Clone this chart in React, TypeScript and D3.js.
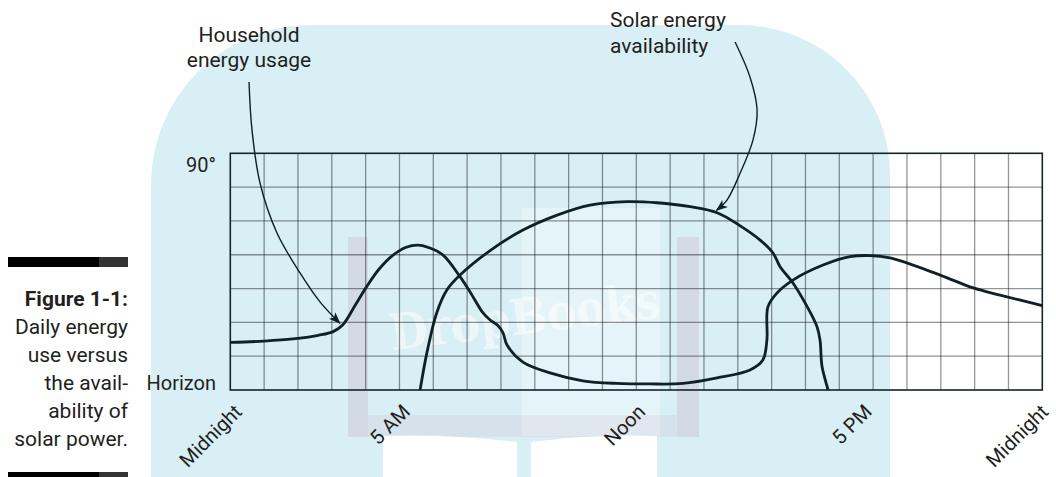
import React from "react";
import * as d3 from "d3";

// ---- data (hours since midnight, sun/usage level in degrees 0..90) ----
const household: [number, number][] = [
  [0, 18.1], [1, 18.6], [1.85, 19.4], [2.6, 20.8], [3.04, 22.2], [3.32, 24.7],
  [3.7, 32.4], [4.03, 39.3], [4.4, 46], [4.81, 51.3], [5.2, 54.3], [5.55, 55.1],
  [5.9, 54], [6.29, 51.3], [6.79, 43.1], [7.1, 37], [7.47, 29.3], [7.68, 26.6],
  [7.91, 24.5], [8.06, 21.7], [8.18, 17.1], [8.65, 10.6], [9.45, 6.5], [10.42, 3.5],
  [11.43, 2.5], [12.4, 2.3], [13.38, 2.5], [14.39, 4.6], [15.36, 7.6], [15.74, 11.4],
  [15.86, 19.0], [15.89, 31.6], [16.16, 36.9], [16.63, 41.8], [17.52, 47.5],
  [18.32, 50.7], [18.91, 51.1], [19.5, 50.2], [20.98, 43.7], [21.96, 38.8],
  [22.75, 36.1], [24, 32.1],
];

const solar: [number, number][] = [
  [5.61, 0], [5.81, 14.1], [6.1, 29.3], [6.4, 38.0], [6.79, 43.7], [7.7, 53.2],
  [8.65, 60.8], [9.66, 66.5], [10.63, 70.3], [11.73, 71.6], [12.61, 71.2],
  [13.59, 69.7], [14.39, 67.4], [15.06, 62.5], [15.66, 57.0], [16.04, 52.1],
  [16.25, 46.9], [16.63, 40.7], [17.05, 31.7], [17.34, 24.1], [17.43, 19.0],
  [17.49, 8.9], [17.67, 0],
];

// annotation leader lines (same hour / degree units)
const householdArrow: [number, number][] = [
  [0.553, 117.1], [0.641, 98.9], [0.878, 78.7], [1.38, 59.7], [2.06, 44.5],
  [2.65, 33.5], [3.24, 25.4],
];
const solarArrow: [number, number][] = [
  [14.92, 132.3], [15.36, 119.0], [15.57, 106.5], [15.45, 95.1], [15.07, 82.5],
  [14.68, 72.2], [14.37, 68.3],
];

const tickLabels = ["Midnight", "5 AM", "Noon", "5 PM", "Midnight"];
const tickLabelHours = [0.38, 5.35, 12.3, 19.0, 24.22];
const yLabels = ["Horizon", "90°"];
const yLabelValues = [0, 90];
const captionTitle = "Figure 1-1:";
const captionLines = ["Daily energy", "use versus", "the avail-", "ability of", "solar power."];
const householdLabel = ["Household", "energy usage"];
const solarLabel = ["Solar energy", "availability"];

const HOURS = 24;
const ROWS = 7;

const W = 1056;
const H = 477;
const FONT = "Roboto, 'Noto Sans', sans-serif";
const INK = "#0f2126";
const TEXT = "#231f20";

export default function App() {
  const x = d3.scaleLinear().domain([0, HOURS]).range([230.3, 1042.3]);
  const y = d3.scaleLinear().domain([0, 90]).range([390, 153.3]);

  const curve = d3
    .line<[number, number]>()
    .x((d) => x(d[0]))
    .y((d) => y(d[1]))
    .curve(d3.curveCatmullRom.alpha(0.5));

  const vLines = d3.range(1, HOURS);
  const hLines = d3.range(1, ROWS).map((i) => (90 / ROWS) * i);

  const [x0, x1] = x.range();
  const [yb, yt] = y.range();

  const bgPath =
    "M151,477 L151,185 A160,160 0 0 1 311,25 L740,25 A150,150 0 0 1 890,175 L890,477 Z";

  return (
    <svg
      width={W}
      height={H}
      viewBox={`0 0 ${W} ${H}`}
      style={{ position: "absolute", left: 0, top: 0, background: "#fff" }}
    >
      <defs>
        <marker
          id="arrow"
          viewBox="-12 -6 14 12"
          markerWidth={14}
          markerHeight={12}
          refX={0}
          refY={0}
          orient="auto"
          markerUnits="userSpaceOnUse"
        >
          <path d="M1,0 L-11,-4.5 L-8,0 L-11,4.5 Z" fill={INK} />
        </marker>
      </defs>

      {/* watermark background */}
      <path d={bgPath} fill="#d8eff5" />
      <rect x={522} y={208} width={138} height={228} fill="#ffffff" opacity={0.35} />
      <g fill="#c98aa8" opacity={0.2}>
        <rect x={348} y={237} width={20} height={200} />
        <rect x={677} y={237} width={22} height={200} />
        <rect x={368} y={415} width={309} height={22} opacity={0.6} />
      </g>
      <path d="M383,477 L383,436 Q450,434 517,442 L517,477 Z" fill="#ffffff" />
      <path d="M531,477 L531,442 Q595,434 657,436 L657,477 Z" fill="#ffffff" />
      <text
        x={525}
        y={334}
        textAnchor="middle"
        fontFamily="'DejaVu Serif', serif"
        fontWeight="bold"
        fontSize={50}
        textLength={272}
        lengthAdjust="spacingAndGlyphs"
        fill="#ffffff"
        opacity={0.55}
        transform="rotate(-7 525 320)"
      >
        DropBooks
      </text>

      {/* grid */}
      <g stroke="rgba(0,0,0,0.42)" strokeWidth={1.3}>
        {vLines.map((h) => (
          <line key={`v${h}`} x1={x(h)} x2={x(h)} y1={yt} y2={yb} />
        ))}
        {hLines.map((v) => (
          <line key={`h${v}`} x1={x0} x2={x1} y1={y(v)} y2={y(v)} />
        ))}
      </g>
      <rect
        x={x0}
        y={yt}
        width={x1 - x0}
        height={yb - yt}
        fill="none"
        stroke="#14242a"
        strokeWidth={1.6}
      />

      {/* data curves */}
      <path d={curve(household) || ""} fill="none" stroke={INK} strokeWidth={2.8} strokeLinejoin="round" />
      <path d={curve(solar) || ""} fill="none" stroke={INK} strokeWidth={2.8} strokeLinejoin="round" />

      {/* leader arrows */}
      <path d={curve(householdArrow) || ""} fill="none" stroke={INK} strokeWidth={1.4} markerEnd="url(#arrow)" />
      <path d={curve(solarArrow) || ""} fill="none" stroke={INK} strokeWidth={1.4} markerEnd="url(#arrow)" />

      {/* annotation labels */}
      <g fontFamily={FONT} fontSize={21} fill={TEXT}>
        {householdLabel.map((t, i) => (
          <text key={t} x={249} y={42 + i * 25} textAnchor="middle">
            {t}
          </text>
        ))}
        {solarLabel.map((t, i) => (
          <text key={t} x={610} y={27 + i * 26} textAnchor="start">
            {t}
          </text>
        ))}
      </g>

      {/* y labels */}
      <g fontFamily={FONT} fontSize={20} fill={TEXT}>
        {yLabels.map((t, i) => (
          <text key={t} x={216} y={y(yLabelValues[i]) + (i === 0 ? 0 : 19)} textAnchor="end">
            {t}
          </text>
        ))}
      </g>

      {/* x tick labels */}
      <g fontFamily={FONT} fontSize={20} fill={TEXT}>
        {tickLabels.map((t, i) => {
          const ax = x(tickLabelHours[i]);
          const ay = yb + 23;
          return (
            <text key={i} x={ax} y={ay} textAnchor="end" transform={`rotate(-45 ${ax} ${ay})`}>
              {t}
            </text>
          );
        })}
      </g>

      {/* caption */}
      <rect x={8} y={257} width={91} height={10} fill="#000" />
      <rect x={99} y={257} width={29} height={10} fill="#333" />
      <g fontFamily={FONT} fontSize={21} fill={TEXT} textAnchor="end">
        <text x={128} y={306} fontWeight="bold">
          {captionTitle}
        </text>
        {captionLines.map((t, i) => (
          <text key={t} x={128} y={334 + i * 28}>
            {t}
          </text>
        ))}
      </g>
      <rect x={8} y={472} width={91} height={10} fill="#000" />
      <rect x={99} y={472} width={29} height={10} fill="#333" />
    </svg>
  );
}
